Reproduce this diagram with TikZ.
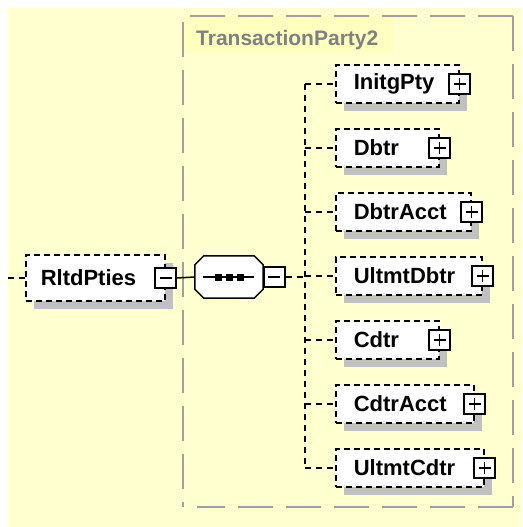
\documentclass[tikz,border=0pt]{standalone}
\usepackage{fontspec}
\setmainfont{Liberation Sans}
\usetikzlibrary{shadows,calc}
\definecolor{bgyellow}{RGB}{255,255,208}
\definecolor{bandyellow}{RGB}{255,255,192}
\definecolor{groupgray}{RGB}{160,160,160}
\definecolor{labelgray}{RGB}{128,128,128}
\definecolor{shadowgray}{RGB}{192,192,192}
\newcommand{\elemfont}{\fontsize{22}{26}\selectfont\bfseries}
\begin{document}
\begin{tikzpicture}[x=1pt,y=-1pt,
  elem/.style={draw=black, line width=1.6pt, dash pattern=on 6pt off 4pt, fill=white,
    minimum height=38pt, inner xsep=18pt, inner ysep=0pt, align=left, text width=#1,
    font=\elemfont, anchor=west,
    drop shadow={shadow xshift=8pt, shadow yshift=-8pt, fill=shadowgray, opacity=1, draw=none}},
  pmbox/.style={draw=black, solid, line width=1.5pt, fill=white, minimum width=21pt,
    minimum height=20pt, inner sep=0pt},
  plusbox/.style={pmbox, path picture={
    \draw[line width=1.5pt] ([xshift=-6pt]path picture bounding box.center) -- ([xshift=6pt]path picture bounding box.center)
      ([yshift=-6pt]path picture bounding box.center) -- ([yshift=6pt]path picture bounding box.center);}},
  minusbox/.style={pmbox, path picture={
    \draw[line width=1.5pt] ([xshift=-6pt]path picture bounding box.center) -- ([xshift=6pt]path picture bounding box.center);}},
  conn/.style={draw=black, line width=1.6pt, dash pattern=on 6pt off 5pt},
  solidconn/.style={draw=black, line width=1.5pt},
  group/.style={draw=groupgray, line width=2pt, dash pattern=on 35pt off 13pt},
]
\useasboundingbox (0,0) rectangle (522,527);
\fill[white] (0,0) rectangle (522,527);
\fill[bgyellow] (8,8) rectangle (522,527);
% group box
\fill[bandyellow] (183,16) rectangle (393,53);
\draw[group] (190,16) -- (513,16);
\draw[group] (513,16) -- (513,507);
\draw[group] (513,507) -- (197,507);
\draw[group] (183,22) -- (183,507);
\node[font=\fontsize{21}{25}\selectfont\bfseries, text=labelgray, anchor=west, inner sep=0pt] (gname) at (196,40) {TransactionParty2};
% root element
\node[elem=109pt, minimum height=46pt, inner xsep=15pt] (rltd) at (25,278) {RltdPties};
\node[minusbox] (rltdm) at (rltd.east) {};
\coordinate (lead) at (8,278);
\draw[conn] (lead) -- (rltd.west);
% sequence compositor
\node[minimum width=68pt, minimum height=42pt, inner sep=0pt] (seq) at (229,277) {};
\fill[shadowgray, shift={(8pt,-8pt)}] ([xshift=9pt]seq.north west) -- ([xshift=-9pt]seq.north east) -- ([yshift=-9pt]seq.north east) -- ([yshift=9pt]seq.south east) -- ([xshift=-9pt]seq.south east) -- ([xshift=9pt]seq.south west) -- ([yshift=9pt]seq.south west) -- ([yshift=-9pt]seq.north west) -- cycle;
\draw[line width=1.5pt, fill=white] ([xshift=9pt]seq.north west) -- ([xshift=-9pt]seq.north east) -- ([yshift=-9pt]seq.north east) -- ([yshift=9pt]seq.south east) -- ([xshift=-9pt]seq.south east) -- ([xshift=9pt]seq.south west) -- ([yshift=9pt]seq.south west) -- ([yshift=-9pt]seq.north west) -- cycle;
\draw[line width=1.5pt] ([xshift=8pt]seq.west) -- ([xshift=-9pt]seq.east);
\foreach \dx in {-11,0,11} {
  \fill ([xshift=\dx pt]seq.center) ++(-3.5pt,-3.5pt) rectangle ++(7pt,7pt);
}
\node[minusbox, anchor=west] (seqm) at (seq.east) {};
\draw[solidconn] (rltdm.east) -- (seq.west);
\coordinate (spine) at (305,277);
\draw[conn] (seqm.east) -- (spine);
% children
\node[elem=87pt]  (initg) at (335,84)  {InitgPty};
\node[elem=67pt]  (dbtr)  at (335,148) {Dbtr};
\node[elem=99pt]  (dbtra) at (335,212) {DbtrAcct};
\node[elem=110pt] (ultd)  at (335,276) {UltmtDbtr};
\node[elem=67pt]  (cdtr)  at (335,340) {Cdtr};
\node[elem=102pt] (cdtra) at (335,404) {CdtrAcct};
\node[elem=112pt] (ultc)  at (335,468) {UltmtCdtr};
\foreach \n in {initg,dbtr,dbtra,ultd,cdtr,cdtra,ultc} {
  \node[plusbox] (\n x) at (\n.east) {};
  \draw[conn] (spine |- \n.west) -- (\n.west);
}
\draw[conn] (spine |- initg.west) -- (spine |- ultc.west);
\end{tikzpicture}
\end{document}
